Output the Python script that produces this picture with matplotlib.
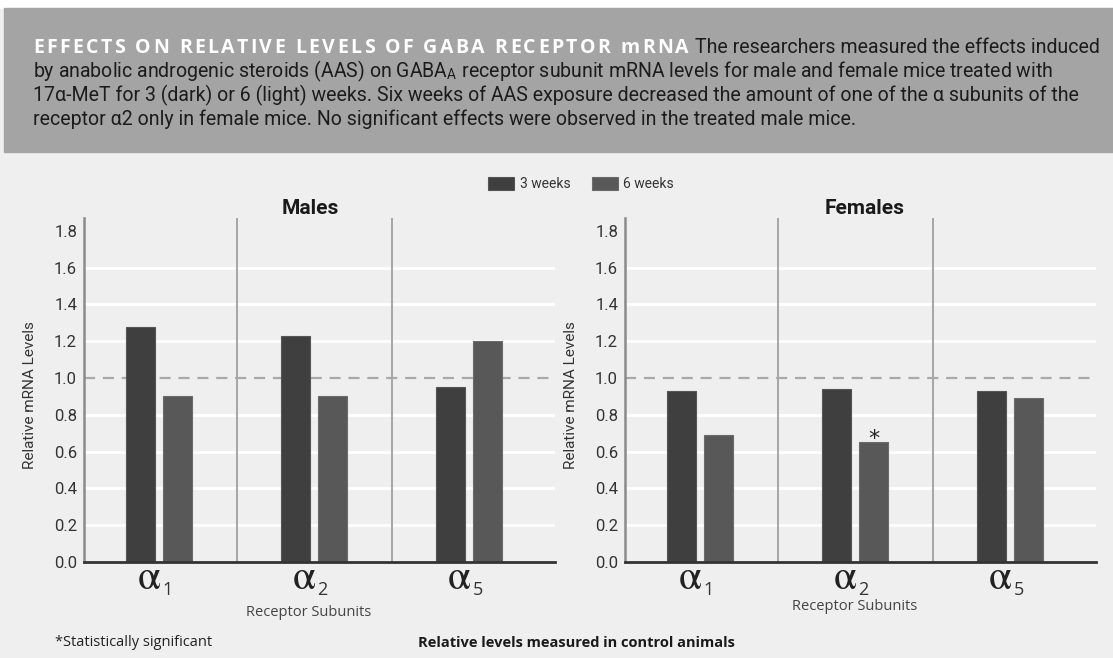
import matplotlib
matplotlib.use('Agg')
import matplotlib.pyplot as plt
import numpy as np
from matplotlib.patches import Rectangle

# Werte
subunits = ['1', '2', '5']
males_3wk = [1.28, 1.23, 0.95]
males_6wk = [0.90, 0.90, 1.20]
females_3wk = [0.93, 0.94, 0.93]
females_6wk = [0.69, 0.65, 0.89]
females_6wk_sig = [False, True, False]
males_6wk_sig = [False, False, False]
yticks = [0.0, 0.2, 0.4, 0.6, 0.8, 1.0, 1.2, 1.4, 1.6, 1.8]
control_level = 1.0

header_title = 'EFFECTS ON RELATIVE LEVELS OF GABA RECEPTOR mRNA'
header_lines = [
    'The researchers measured the effects induced',
    'by anabolic androgenic steroids (AAS) on GABA$_\\mathregular{A}$ receptor subunit mRNA levels for male and female mice treated with',
    '17\u03b1-MeT for 3 (dark) or 6 (light) weeks. Six weeks of AAS exposure decreased the amount of one of the \u03b1 subunits of the',
    'receptor \u03b12 only in female mice. No significant effects were observed in the treated male mice.',
]

plt.rcParams['font.family'] = ['Roboto', 'DejaVu Sans']
plt.rcParams['mathtext.fontset'] = 'stix'

W, H = 1113, 658
BG = '#efefef'
DARK = '#3f3f3f'
LIGHT = '#585858'

fig = plt.figure(figsize=(W / 100, H / 100), dpi=100, facecolor=BG)
renderer = fig.canvas.get_renderer()


def fx(x):
    return x / W


def fy(y):
    return 1 - y / H


# Kopfbereich
fig.patches.append(Rectangle((0, fy(8)), 1, 8 / H, transform=fig.transFigure,
                             color='white', zorder=0))
fig.patches.append(Rectangle((fx(4), fy(152)), 1 - fx(4), 144 / H,
                             transform=fig.transFigure, color='#a4a4a4', zorder=0))


def char_adv(ch, **kw):
    t = fig.text(0, 0, '|' + ch + '|', **kw)
    w1 = t.get_window_extent(renderer).width
    t.set_text('||')
    w0 = t.get_window_extent(renderer).width
    t.remove()
    return w1 - w0


def tracked_text(x0, y, s, width, **kw):
    advs = [char_adv(ch, **kw) for ch in s]
    extra = (width - sum(advs)) / (len(s) - 1)
    x = x0
    for ch, a in zip(s, advs):
        if ch != ' ':
            fig.text(fx(x), fy(y), ch, va='baseline', ha='left', **kw)
        x += a + extra


tracked_text(33, 53, header_title, 656, family='Open Sans', weight='bold',
             fontsize=14, color='white')

# Schriftgroesse so waehlen, dass Zeile 2 die Breite trifft
body_kw = dict(family='Roboto', color='#1c1c1c', va='baseline', ha='left')
probe = fig.text(0, 0, header_lines[1], fontsize=11, **body_kw)
body_size = 11 * 1021 / probe.get_window_extent(renderer).width
probe.remove()

fig.text(fx(695), fy(53), header_lines[0], fontsize=body_size, **body_kw)
for i, line in enumerate(header_lines[1:]):
    fig.text(fx(33), fy(77 + 24 * i), line, fontsize=body_size, **body_kw)


def draw_panel(left_px, v3, v6, sig6, title, title_x, sub_x, sub_y):
    ax = fig.add_axes([fx(left_px), fy(562), 471 / W, 344 / H])
    ax.set_facecolor('none')
    x = np.arange(len(subunits))

    for yv in yticks[1:-1]:
        if yv != control_level:
            ax.axhline(yv, color='white', lw=2, zorder=0)
    ax.axhline(control_level, color='#a9a9a9', lw=1.6, ls=(0, (5, 3.5)), zorder=1)
    for d in x[:-1] + 0.5:
        ax.axvline(d, color='#a6a6a6', lw=1.4, zorder=1)

    b3 = ax.bar(x - 0.12, v3, 0.19, color=DARK, edgecolor='#555555', lw=0.8,
                zorder=2, label='3 weeks')
    b6 = ax.bar(x + 0.12, v6, 0.19, color=LIGHT, edgecolor='#6b6b6b', lw=0.8,
                zorder=2, label='6 weeks')
    for i, s in enumerate(sig6):
        if s:
            ax.annotate('*', (x[i] + 0.12, v6[i]), xytext=(0, -2),
                        textcoords='offset points', ha='center', va='baseline',
                        fontsize=16, family='DejaVu Sans', color='#222222')

    ax.set_xlim(-0.485, 2.555)
    ax.set_ylim(0, 1.87)
    ax.set_yticks(yticks)
    ax.set_yticklabels([f'{v:.1f}' for v in yticks])
    ax.set_xticks([])
    ax.tick_params(axis='y', length=0, pad=5, labelsize=12, labelcolor='#333333')
    for side in ['top', 'right']:
        ax.spines[side].set_visible(False)
    ax.spines['left'].set_color('#8a8a8a')
    ax.spines['left'].set_linewidth(1.8)
    ax.spines['bottom'].set_color('#333333')
    ax.spines['bottom'].set_linewidth(2)

    # alpha-Beschriftungen mit Index
    for i, s in enumerate(subunits):
        ax.annotate(r'$\mathrm{\alpha}$', (x[i], 0), xytext=(1.5, -19.5),
                    textcoords='offset points', ha='right', va='baseline',
                    fontsize=30, color='#222222', annotation_clip=False)
        ax.annotate(s, (x[i], 0), xytext=(2.5, -24), textcoords='offset points',
                    ha='left', va='baseline', fontsize=13,
                    family='Open Sans', color='#333333', annotation_clip=False)

    fig.text(fx(title_x), fy(208), title, ha='center', va='center',
             fontsize=15, weight='bold', color='#1a1a1a')
    fig.text(fx(sub_x), fy(sub_y), 'Receptor Subunits', ha='center', va='center',
             fontsize=10.5, family='Open Sans', color='#444444')
    fig.text(fx(left_px - 54), fy(395), 'Relative mRNA Levels', rotation=90,
             ha='center', va='center', fontsize=11, color='#333333')
    return b3, b6


b3, b6 = draw_panel(84, males_3wk, males_6wk, males_6wk_sig, 'Males', 310, 309, 613)
draw_panel(625, females_3wk, females_6wk, females_6wk_sig, 'Females', 865, 855, 607)

fig.legend([b3, b6], ['3 weeks', '6 weeks'], loc='center left',
           bbox_to_anchor=(fx(488), fy(184)), ncol=2, frameon=False, fontsize=10,
           handlelength=1.87, handleheight=1.08, handletextpad=0.43,
           columnspacing=1.5, borderpad=0, borderaxespad=0, labelcolor='#333333')

fig.text(fx(55), fy(643), '*Statistically significant', va='center',
         fontsize=10.5, family='Open Sans', color='#222222')
fig.text(fx(418), fy(643), 'Relative levels measured in control animals', va='center',
         fontsize=10.5, family='Open Sans', weight='bold', color='#1a1a1a')

fig.savefig('out.png', dpi=100, facecolor=BG)
